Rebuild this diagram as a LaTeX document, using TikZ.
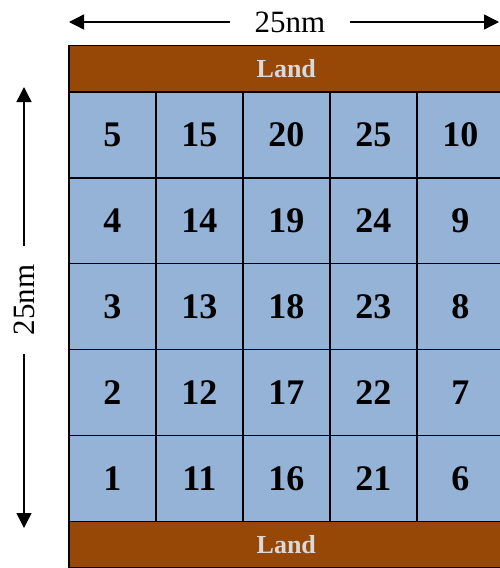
\documentclass[tikz,border=0pt]{standalone}
\usepackage{fontspec}
\setmainfont{Liberation Serif}
\usetikzlibrary{arrows.meta,positioning}
\definecolor{landbrown}{HTML}{974706}
\definecolor{cellblue}{HTML}{95B3D7}
\definecolor{landtext}{HTML}{D9D9D9}

\begin{document}
\begin{tikzpicture}[
    x=1pt, y=-1pt,
    cell/.style={draw, line width=1.6pt, fill=cellblue, anchor=north west, minimum width=87pt, minimum height=85.9pt, inner sep=0pt, font=\fontsize{36}{36}\selectfont\bfseries},
    land/.style={draw, line width=1.6pt, fill=landbrown, anchor=north west, minimum width=435pt, minimum height=46.5pt, inner sep=0pt, text=landtext, font=\fontsize{26}{26}\selectfont\bfseries},
    dim/.style={fill=white, inner ysep=0pt, font=\fontsize{31}{31}\selectfont},
    >={Triangle[length=15pt, width=15pt]}
]
\clip (0,0) rectangle (500,568);
% land strips
\node[land] (landtop) at (68,44.5) {Land};
\node[land] (landbottom) at (68,520.5) {Land};
% grid cells
\foreach \c/\base in {0/5,1/15,2/20,3/25,4/10} {
  \foreach \r in {0,...,4} {
    \pgfmathtruncatemacro{\num}{\base-\r}
    \node[cell] (cell\num) at (68+87*\c, 91+85.9*\r) {\num};
  }
}
% dimensions
\coordinate (wl) at (69,22);
\coordinate (wr) at (499,22);
\draw[<->, line width=1.4pt] (wl) -- (wr) node[dim, pos=0.514, inner xsep=25pt] (wlabel) {25nm};
\coordinate (hb) at (24,528);
\coordinate (ht) at (24,87);
\draw[<->, line width=1.4pt] (hb) -- (ht) node[dim, pos=0.517, rotate=90, inner xsep=19pt] (hlabel) {25nm};
\end{tikzpicture}
\end{document}
